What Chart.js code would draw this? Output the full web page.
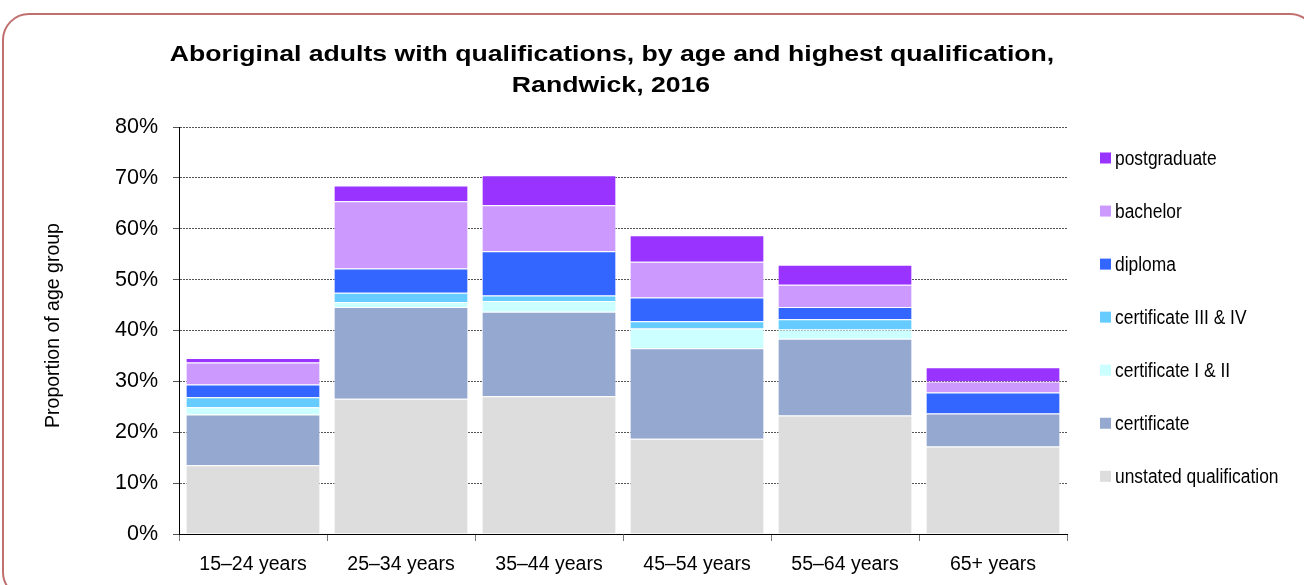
<!DOCTYPE html>
<html>
<head>
<meta charset="utf-8">
<script src="https://cdn.jsdelivr.net/npm/chart.js@4/dist/chart.umd.min.js"></script>
<style>
  html, body { margin: 0; padding: 0; background: #fff; }
  #wrap { position: relative; width: 1304px; height: 585px; }
</style>
</head>
<body>
<div id="wrap"><canvas id="c" width="1304" height="585"></canvas></div>
<script>
// Age groups along the x axis
const ageGroups = ['15–24 years', '25–34 years', '35–44 years', '45–54 years', '55–64 years', '65+ years'];

// Share of each age group (%) by highest qualification, stacked bottom to top
const unstated     = [13.5, 26.6, 27.1, 18.7, 23.3, 17.2];
const certificate  = [10.0, 18.0, 16.6, 17.8, 15.1, 6.5];
const certI_II     = [1.4, 1.0, 2.1, 3.9, 1.8, 0];
const certIII_IV   = [2.0, 1.8, 1.1, 1.4, 2.0, 0];
const diploma      = [2.5, 4.8, 8.7, 4.7, 2.4, 4.1];
const bachelor     = [4.3, 13.2, 9.0, 7.0, 4.4, 2.2];
const postgraduate = [0.9, 3.1, 5.9, 5.2, 3.9, 2.8];

const seriesNames = ['unstated qualification', 'certificate', 'certificate I & II',
                     'certificate III & IV', 'diploma', 'bachelor', 'postgraduate'];
const seriesValues = [unstated, certificate, certI_II, certIII_IV, diploma, bachelor, postgraduate];
const seriesColors = ['#DDDDDD', '#95A9D0', '#CCFFFF', '#66CCFF', '#3366FF', '#CC99FF', '#9933FF'];

// Axis range and text
const yMax = 80;
const yStep = 10;
const titleLines = ['Aboriginal adults with qualifications, by age and highest qualification,', 'Randwick, 2016'];
const yAxisTitle = 'Proportion of age group';

const FONT = '"Liberation Sans", Arial, Helvetica, sans-serif';

// Horizontally scaled text helper
function scaledText(ctx, text, x, y, sx, align) {
  ctx.save();
  ctx.translate(x, y);
  ctx.scale(sx, 1);
  ctx.textAlign = align;
  ctx.fillText(text, 0, 0);
  ctx.restore();
}

// Frame, title, y-axis title and legend
const decor = {
  id: 'decor',
  beforeDraw(chart) {
    const ctx = chart.ctx;
    ctx.save();
    ctx.fillStyle = '#fff';
    ctx.fillRect(0, 0, chart.width, chart.height);
    ctx.strokeStyle = '#C0706F';
    ctx.lineWidth = 2;
    ctx.beginPath();
    ctx.roundRect(3, 14, 1313, 584, 26);
    ctx.stroke();
    ctx.restore();
  },
  afterDraw(chart) {
    const ctx = chart.ctx;
    const area = chart.chartArea;
    ctx.save();
    ctx.fillStyle = '#000';
    // title
    ctx.font = 'bold 22px ' + FONT;
    ctx.textBaseline = 'alphabetic';
    scaledText(ctx, titleLines[0], 612, 61, 1.21, 'center');
    scaledText(ctx, titleLines[1], 611, 92, 1.21, 'center');
    // y-axis title
    ctx.save();
    ctx.translate(54, (area.top + area.bottom) / 2 - 5);
    ctx.rotate(-Math.PI / 2);
    ctx.font = '19.5px ' + FONT;
    ctx.textAlign = 'center';
    ctx.textBaseline = 'middle';
    ctx.fillText(yAxisTitle, 0, 0);
    ctx.restore();
    // legend, top entry is the top of the stack
    const ds = chart.data.datasets.slice().reverse();
    ctx.font = '20px ' + FONT;
    ctx.textBaseline = 'middle';
    ds.forEach((d, i) => {
      const cy = 158 + i * 53.05;
      ctx.fillStyle = d.backgroundColor;
      ctx.fillRect(1100, cy - 5.5, 11, 11);
      ctx.fillStyle = '#000';
      scaledText(ctx, d.label, 1115, cy + 1, 0.87, 'left');
    });
    ctx.restore();
  }
};

new Chart(document.getElementById('c'), {
  type: 'bar',
  data: {
    labels: ageGroups,
    datasets: seriesNames.map((name, i) => ({
      label: name,
      data: seriesValues[i],
      backgroundColor: seriesColors[i],
      borderColor: 'rgba(255,255,255,0.55)',
      borderWidth: 1,
      barPercentage: 0.91,
      categoryPercentage: 1.0
    }))
  },
  options: {
    responsive: false,
    animation: false,
    devicePixelRatio: 1,
    layout: { padding: { top: 127, right: 237, left: 0, bottom: 0 } },
    plugins: {
      legend: { display: false },
      title: { display: false },
      tooltip: { enabled: false }
    },
    scales: {
      x: {
        stacked: true,
        z: 1,
        afterFit(s) { s.height = 51; },
        grid: { drawOnChartArea: false, drawTicks: true, tickLength: 7, color: '#777', offset: true },
        border: { color: '#000', width: 1 },
        ticks: { color: '#000', font: { family: FONT, size: 19.5 }, padding: 12, maxRotation: 0 }
      },
      y: {
        stacked: true,
        min: 0,
        max: yMax,
        afterFit(s) { s.width = 179; },
        grid: { color: '#555', lineWidth: 1, drawTicks: true, tickLength: 6 },
        border: { color: '#000', width: 1, dash: [2, 1] },
        ticks: {
          stepSize: yStep,
          color: '#000',
          font: { family: FONT, size: 21.5 },
          padding: 15,
          callback: v => v + '%'
        }
      }
    }
  },
  plugins: [decor]
});
</script>
</body>
</html>
